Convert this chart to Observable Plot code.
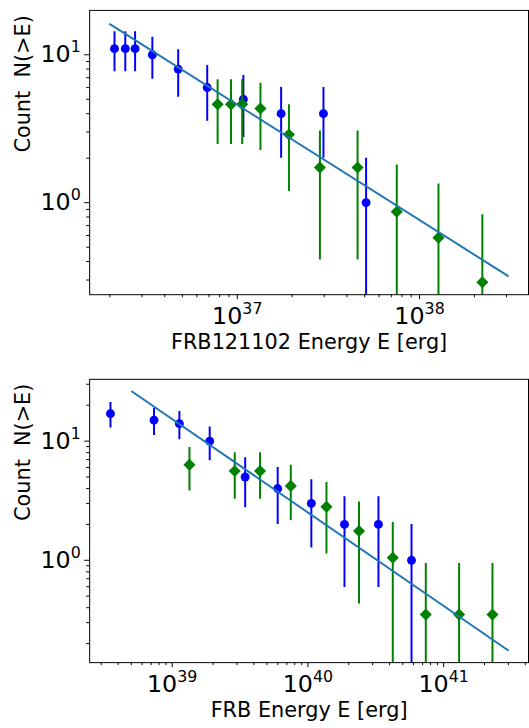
<!DOCTYPE html>
<html>
<head>
<meta charset="utf-8">
<script src="https://cdn.jsdelivr.net/npm/d3@7"></script>
<script src="https://cdn.jsdelivr.net/npm/@observablehq/plot@0.6"></script>
<style>
  html, body { margin: 0; padding: 0; overflow: hidden; background: #fff; width: 529px; height: 728px; }
  #chart svg { display: block; }
</style>
</head>
<body>
<div id="chart"></div>
<script>
// ---------- Top panel: FRB121102 ----------
const topBlueE   = [2.12e36, 2.43e36, 2.75e36, 3.42e36, 4.74e36, 6.84e36, 1.08e37, 1.74e37, 2.97e37, 5.09e37];
const topBlueN   = [11, 11, 11, 10, 8, 6, 5, 4, 4, 1];
const topBlueErr = [3.32, 3.32, 3.32, 3.16, 2.83, 2.45, 2.24, 2.0, 2.0, 1.0];
const topGreenE   = [7.80e36, 9.24e36, 1.064e37, 1.34e37, 1.92e37, 2.84e37, 4.57e37, 7.5e37, 1.27e38, 2.21e38];
const topGreenN   = [4.62, 4.62, 4.62, 4.33, 2.89, 1.73, 1.73, 0.87, 0.58, 0.29];
const topGreenErr = [2.15, 2.15, 2.15, 2.08, 1.70, 1.32, 1.32, 0.93, 0.76, 0.54];
const topFitE = [2.0e36, 3.05e38];
const topFitN = [16.1, 0.32];
const topXDomain = [1.549e36, 3.96e38];
const topYDomain = [0.2387, 19.95];
const topXMajor = [1e37, 1e38];
const topYMajor = [1, 10];
const topXLabel = "FRB121102 Energy E [erg]";

// ---------- Bottom panel: FRB ----------
const botBlueE   = [3.51e38, 7.35e38, 1.13e39, 1.89e39, 3.45e39, 5.99e39, 1.06e40, 1.86e40, 3.31e40, 5.8e40];
const botBlueN   = [17, 15, 14, 10, 5, 4, 3, 2, 2, 1];
const botBlueErr = [4.12, 3.87, 3.74, 3.16, 2.24, 2.0, 1.73, 1.41, 1.41, 1.0];
const botGreenE   = [1.34e39, 2.89e39, 4.44e39, 7.48e39, 1.37e40, 2.38e40, 4.22e40, 7.39e40, 1.30e41, 2.29e41];
const botGreenN   = [6.32, 5.62, 5.62, 4.21, 2.81, 1.76, 1.05, 0.35, 0.35, 0.35];
const botGreenErr = [2.51, 2.37, 2.37, 2.05, 1.68, 1.33, 1.03, 0.59, 0.59, 0.59];
const botFitE = [5.06e38, 2.98e41];
const botFitN = [26.1, 0.176];
const botXDomain = [2.466e38, 4.22e41];
const botYDomain = [0.1384, 33.0];
const botXMajor = [1e39, 1e40, 1e41];
const botYMajor = [1, 10];
const botXLabel = "FRB Energy E [erg]";

const yLabel = "Count\u00a0 N(>E)";

function minorTicks(dom) {
  const out = [];
  const k0 = Math.floor(Math.log10(dom[0])), k1 = Math.ceil(Math.log10(dom[1]));
  for (let k = k0; k <= k1; k++)
    for (let m = 2; m <= 9; m++) {
      const v = m * Math.pow(10, k);
      if (v >= dom[0] && v <= dom[1]) out.push(v);
    }
  return out;
}

function panel(o) {
  const rows = (E, N, Err) => E.map((e, i) => ({
    e, n: N[i],
    lo: Math.max(N[i] - Err[i], o.yDomain[0] / 10),
    hi: N[i] + Err[i]
  }));
  const blue = rows(o.blueE, o.blueN, o.blueErr);
  const green = rows(o.greenE, o.greenN, o.greenErr);
  const fit = o.fitE.map((e, i) => ({e, n: o.fitN[i]}));
  const fmt = d => "10^" + Math.round(Math.log10(d));
  return Plot.plot({
    width: 534,
    height: 364,
    marginLeft: 90,
    marginRight: 1,
    marginTop: o.marginTop,
    marginBottom: o.marginBottom,
    style: {fontFamily: "'DejaVu Sans', sans-serif", background: "white", color: "black", overflow: "visible"},
    x: {type: "log", domain: o.xDomain, label: null},
    y: {type: "log", domain: o.yDomain, label: null},
    marks: [
      Plot.ruleX(blue, {x: "e", y1: "lo", y2: "hi", stroke: "#0000ff", strokeWidth: 2, clip: true}),
      Plot.dot(blue, {x: "e", y: "n", fill: "#0000ff", r: 4.5, symbol: "circle"}),
      Plot.ruleX(green, {x: "e", y1: "lo", y2: "hi", stroke: "#008000", strokeWidth: 2, clip: true}),
      Plot.dot(green, {x: "e", y: "n", fill: "#008000", r: 5.5, symbol: "diamond2"}),
      Plot.line(fit, {x: "e", y: "n", stroke: "#1f77b4", strokeWidth: 2}),
      Plot.frame({stroke: "black", strokeWidth: 1}),
      Plot.axisX(minorTicks(o.xDomain), {tickSize: 3, fill: "none", label: null}),
      Plot.axisX(o.xMajor, {tickSize: 5, tickPadding: 7.5, tickFormat: fmt, fontSize: 24, label: null}),
      Plot.axisY(minorTicks(o.yDomain), {tickSize: 3, fill: "none", label: null}),
      Plot.axisY(o.yMajor, {tickSize: 5, tickPadding: 4, tickFormat: fmt, fontSize: 24, label: null}),
      Plot.text([o.xLabel], {frameAnchor: "bottom", dy: 55, lineAnchor: "bottom", fontSize: 21, text: d => d}),
      Plot.text([yLabel], {frameAnchor: "left", rotate: -90, dx: -75, lineAnchor: "top", fontSize: 21, text: d => d})
    ]
  });
}

function superscripts(svg) {
  d3.select(svg).selectAll("text").each(function () {
    const m = /^10\^(-?\d+)$/.exec(this.textContent);
    if (!m) return;
    const t = d3.select(this);
    t.text(null);
    t.append("tspan").text("10");
    t.append("tspan").attr("dy", "-10").attr("font-size", "16px").text(m[1]);
  });
}

const chart = document.getElementById("chart");
const p1 = panel({
  blueE: topBlueE, blueN: topBlueN, blueErr: topBlueErr,
  greenE: topGreenE, greenN: topGreenN, greenErr: topGreenErr,
  fitE: topFitE, fitN: topFitN,
  xDomain: topXDomain, yDomain: topYDomain, xMajor: topXMajor, yMajor: topYMajor,
  xLabel: topXLabel, marginTop: 10, marginBottom: 67
});
const p2 = panel({
  blueE: botBlueE, blueN: botBlueN, blueErr: botBlueErr,
  greenE: botGreenE, greenN: botGreenN, greenErr: botGreenErr,
  fitE: botFitE, fitN: botFitN,
  xDomain: botXDomain, yDomain: botYDomain, xMajor: botXMajor, yMajor: botYMajor,
  xLabel: botXLabel, marginTop: 18, marginBottom: 60
});
superscripts(p1);
superscripts(p2);
chart.appendChild(p1);
chart.appendChild(p2);
</script>
</body>
</html>
